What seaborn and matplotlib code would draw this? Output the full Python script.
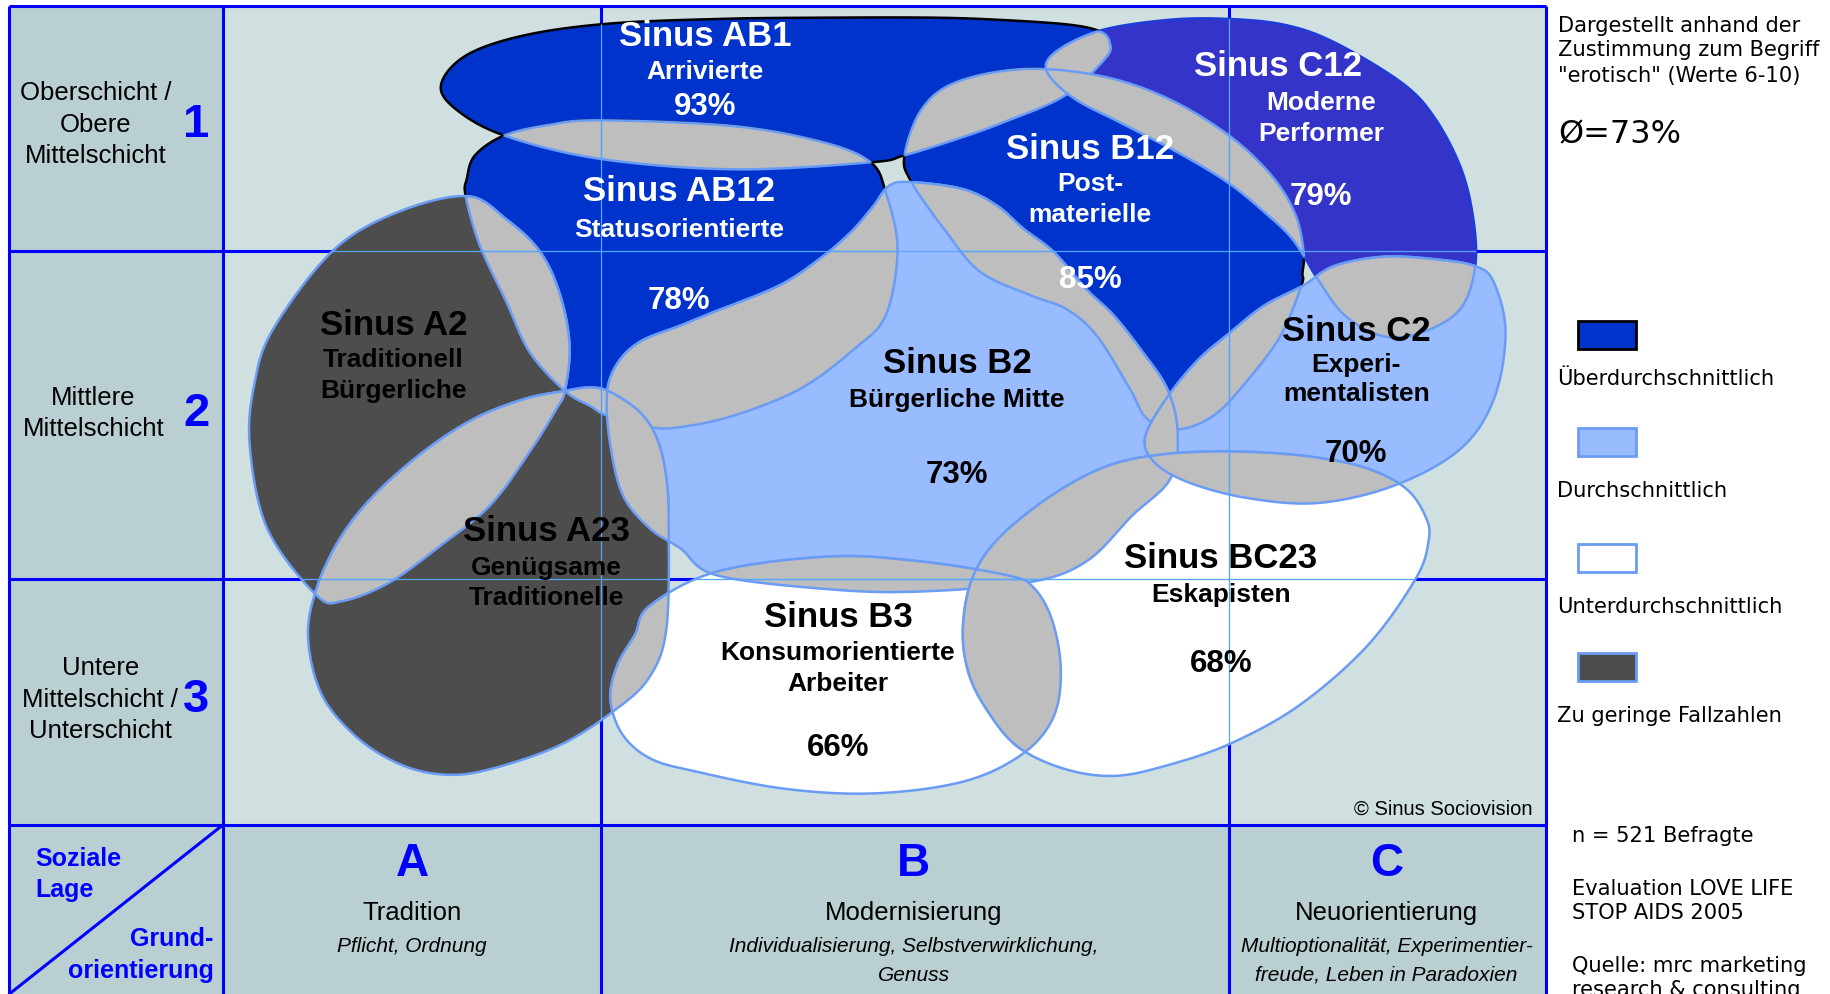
import numpy as np
import matplotlib
matplotlib.use("Agg")
import matplotlib.pyplot as plt
from matplotlib.patches import Polygon, Rectangle
import seaborn as sns

sns.set_theme(style="white")
plt.rcParams['font.family'] = ['Liberation Sans', 'DejaVu Sans']

# ---------------------------------------------------------------
# Data: Sinus-Milieus and agreement with the term "erotisch"
# ---------------------------------------------------------------

milieu_codes = ["AB1", "AB12", "B12", "C12", "A2", "B2", "C2", "A23", "B3", "BC23"]
milieu_names = ["Arrivierte", "Statusorientierte", "Post-\nmaterielle", "Moderne\nPerformer",
                "Traditionell\nBürgerliche", "Bürgerliche Mitte", "Experi-\nmentalisten",
                "Genügsame\nTraditionelle", "Konsumorientierte\nArbeiter", "Eskapisten"]
milieu_pct = [93, 78, 85, 79, None, 73, 70, None, 66, 68]
milieu_class = ["ueber", "ueber", "ueber", "ueber_c", "gering", "durch", "durch", "gering", "unter", "unter"]

average_pct = 73
n_respondents = 521

schicht_labels = ["Oberschicht /\nObere\nMittelschicht", "Mittlere\nMittelschicht",
                  "Untere\nMittelschicht /\nUnterschicht"]
schicht_numbers = ["1", "2", "3"]
orient_letters = ["A", "B", "C"]
orient_names = ["Tradition", "Modernisierung", "Neuorientierung"]
orient_values = ["Pflicht, Ordnung",
                 "Individualisierung, Selbstverwirklichung,\nGenuss",
                 "Multioptionalität, Experimentier-\nfreude, Leben in Paradoxien"]

legend_classes = ["ueber", "durch", "unter", "gering"]
legend_labels = ["Überdurchschnittlich", "Durchschnittlich", "Unterdurchschnittlich", "Zu geringe Fallzahlen"]

# ---------------------------------------------------------------
# Styles
# ---------------------------------------------------------------

class_fill = {"ueber": "#0033CC", "ueber_c": "#3434C8", "durch": "#99BBFF",
              "unter": "#FFFFFF", "gering": "#4D4D4D"}
class_edge = {"ueber": "black", "ueber_c": "#1E3CD8", "durch": "#6A9CF5",
              "unter": "#6A9CF5", "gering": "#6A9CF5"}
class_text = {"ueber": "white", "ueber_c": "white", "durch": "black",
              "unter": "black", "gering": "black"}

OVERLAP = "#BEBEBE"
LENS_EDGE = "#6A9CF5"
GRID = "#0000FF"
THIN_GRID = "#55A5FF"
PLOT_BG = "#D0E0E0"
HEAD_BG = "#B9CFD1"

# ---------------------------------------------------------------
# Layout (picture coordinates, 1568 x 853 frame)
# ---------------------------------------------------------------

outlines = {
    "AB1": [(378, 73), (400, 48), (450, 31), (523, 21), (620, 17), (706, 16), (800, 16), (859, 18),
            (916, 22), (943, 28), (951, 38), (947, 51), (912, 83), (859, 106), (820, 120), (775, 134),
            (746, 140), (629, 146), (514, 137), (432, 117), (390, 94)],
    "AB12": [(432, 117), (470, 108), (514, 104), (629, 109), (706, 123), (746, 140), (759, 166),
             (769, 214), (759, 271), (732, 300), (686, 334), (629, 357), (583, 367), (557, 367),
             (520, 357), (506, 349), (484, 336), (454, 303), (434, 260), (411, 211), (399, 169),
             (400, 154), (407, 134)],
    "B12": [(775, 134), (790, 94), (820, 71), (878, 60), (943, 66), (1000, 85), (1053, 117),
            (1090, 152), (1110, 185), (1117, 217), (1116, 235), (1115, 246), (1097, 289),
            (1068, 328), (1040, 357), (1009, 369), (983, 360), (968, 334), (940, 289), (914, 266),
            (883, 254), (840, 234), (811, 200), (781, 157)],
    "C12": [(897, 62), (905, 45), (943, 27), (1000, 18), (1050, 17), (1100, 22), (1143, 37),
            (1200, 71), (1228, 100), (1251, 143), (1262, 186), (1264, 229), (1251, 266),
            (1218, 286), (1185, 289), (1152, 271), (1129, 240), (1117, 220), (1105, 203),
            (1086, 185), (1053, 158), (1010, 132), (960, 106), (920, 85)],
    "A2": [(400, 169), (434, 189), (463, 217), (480, 254), (488, 297), (484, 336), (477, 351),
           (454, 388), (420, 434), (377, 469), (334, 500), (294, 516), (271, 511), (229, 454),
           (214, 383), (218, 330), (234, 283), (285, 216), (340, 183)],
    "B2": [(762, 160), (781, 157), (825, 163), (854, 177), (877, 197), (903, 217), (931, 249),
           (954, 271), (977, 300), (1000, 334), (1009, 371), (1003, 411), (970, 443), (931, 482),
           (882, 500), (787, 508), (710, 506), (614, 494), (583, 471), (557, 454), (534, 426),
           (523, 383), (520, 340), (528, 314), (548, 294), (583, 280), (610, 269), (667, 246),
           (702, 223), (729, 200), (748, 178)],
    "C2": [(981, 377), (997, 346), (1025, 311), (1054, 286), (1083, 263), (1116, 246), (1143, 229),
           (1185, 221), (1228, 223), (1264, 229), (1280, 243), (1290, 286), (1280, 343),
           (1251, 386), (1195, 417), (1130, 432), (1070, 428), (1020, 415), (990, 398)],
    "A23": [(484, 336), (506, 333), (523, 337), (548, 354), (563, 377), (571, 411), (573, 454),
            (571, 540), (556, 582), (525, 611), (479, 640), (421, 660), (383, 665), (345, 657),
            (307, 634), (276, 597), (264, 548), (271, 506), (291, 463), (320, 426), (363, 388),
            (406, 360), (449, 343)],
    "B3": [(557, 520), (614, 491), (710, 478), (787, 482), (863, 494), (886, 505), (902, 534),
           (909, 577), (902, 617), (875, 648), (825, 671), (749, 681), (672, 677), (595, 662),
           (557, 651), (533, 630), (523, 600), (529, 571), (544, 545)],
    "BC23": [(825, 540), (833, 497), (856, 462), (902, 425), (950, 400), (1000, 390), (1060, 388),
             (1120, 392), (1170, 402), (1205, 420), (1222, 445), (1224, 465), (1213, 497),
             (1172, 554), (1114, 605), (1055, 638), (1000, 657), (955, 666), (912, 660),
             (872, 641), (846, 610), (830, 578)],
}

# label anchor: (x name, y name, x sub, [y sub lines], y pct)
label_pos = {
    "AB1": (604, 31, 604, [62], 92),
    "AB12": (582, 164, 582, [197], 258),
    "B12": (934, 128, 934, [158, 184], 240),
    "C12": (1095, 57, 1132, [88, 115], 169),
    "A2": (337, 279, 337, [309, 335], None),
    "B2": (820, 312, 820, [343], 407),
    "C2": (1162, 284, 1162, [313, 338], 389),
    "A23": (468, 456, 468, [487, 513], None),
    "B3": (718, 529, 718, [560, 586], 641),
    "BC23": (1046, 479, 1046, [510], 569),
}

X0, XL, XA, XB, XR = 8, 191, 515, 1053, 1325
Y0, Y1, Y2, Y3, YB = 6, 216, 497, 708, 853


def smooth_closed(pts, n=20):
    P = np.asarray(pts, float)
    m = len(P)
    t = np.linspace(0, 1, n, endpoint=False)[:, None]
    segs = []
    for i in range(m):
        p0, p1, p2, p3 = P[i - 1], P[i], P[(i + 1) % m], P[(i + 2) % m]
        segs.append(0.5 * (2 * p1 + (-p0 + p2) * t + (2 * p0 - 5 * p1 + 4 * p2 - p3) * t ** 2
                           + (-p0 + 3 * p1 - 3 * p2 + p3) * t ** 3))
    return np.vstack(segs)


fig = plt.figure(figsize=(18.3, 9.95), dpi=100)
ax = fig.add_axes([0, 0, 1, 1])
ax.set_xlim(0, 1568)
ax.set_ylim(853, 0)
ax.axis("off")

# backgrounds
ax.add_patch(Rectangle((X0, Y0), XL - X0, YB - Y0 + 10, facecolor=HEAD_BG, edgecolor="none", zorder=0))
ax.add_patch(Rectangle((XL, Y3), XR - XL, YB - Y3 + 10, facecolor=HEAD_BG, edgecolor="none", zorder=0))
ax.add_patch(Rectangle((XL, Y0), XR - XL, Y3 - Y0, facecolor=PLOT_BG, edgecolor="none", zorder=0))

# thick grid
glw = 2.2
for x in [X0, XL, XA, XB, XR]:
    ax.plot([x, x], [Y0, YB + 10], color=GRID, lw=glw, zorder=1, solid_capstyle="butt")
for y in [Y0, Y1, Y2, Y3]:
    ax.plot([X0, XR], [y, y], color=GRID, lw=glw, zorder=1, solid_capstyle="butt")
ax.plot([XL, X0], [Y3, YB], color=GRID, lw=glw, zorder=1)

# milieu blobs
patches = {}
for code, cls in zip(milieu_codes, milieu_class):
    xy = smooth_closed(outlines[code])
    p = Polygon(xy, closed=True, facecolor=class_fill[cls], edgecolor=class_edge[cls],
                lw=1.8, zorder=2)
    ax.add_patch(p)
    patches[code] = (p, xy)

# overlaps in grey with light blue borders
for i, a in enumerate(milieu_codes):
    for b in milieu_codes[i + 1:]:
        pa, xya = patches[a]
        pb, xyb = patches[b]
        g = Polygon(xyb, closed=True, facecolor=OVERLAP, edgecolor=LENS_EDGE, lw=1.8, zorder=3)
        ax.add_patch(g)
        g.set_clip_path(pa)
        e = Polygon(xya, closed=True, fill=False, edgecolor=LENS_EDGE, lw=1.8, zorder=3)
        ax.add_patch(e)
        e.set_clip_path(pb)

# thin grid lines across the blobs
for code in milieu_codes:
    p, _ = patches[code]
    for x in [XA, XB]:
        ln, = ax.plot([x, x], [Y0, Y3], color=THIN_GRID, lw=0.9, zorder=4)
        ln.set_clip_path(p)
    for y in [Y1, Y2]:
        ln, = ax.plot([XL, XR], [y, y], color=THIN_GRID, lw=0.9, zorder=4)
        ln.set_clip_path(p)

# milieu labels
for code, name, pct, cls in zip(milieu_codes, milieu_names, milieu_pct, milieu_class):
    xn, yn, xs, ys, yp = label_pos[code]
    col = class_text[cls]
    ax.text(xn, yn, "Sinus " + code, ha="center", va="center", fontsize=25,
            fontweight="bold", color=col, zorder=6)
    for line, y in zip(name.split("\n"), ys):
        ax.text(xs, y, line, ha="center", va="center", fontsize=19,
                fontweight="bold", color=col, zorder=6)
    if pct is not None:
        ax.text(xs, yp, f"{pct}%", ha="center", va="center", fontsize=22.5,
                fontweight="bold", color=col, zorder=6)

# social class column
schicht_pos = [(82, [80, 107, 134], 107), (80, [341, 368], 355), (86, [573, 600, 627], 600)]
for lab, num, (x, ys, yn) in zip(schicht_labels, schicht_numbers, schicht_pos):
    for line, y in zip(lab.split("\n"), ys):
        ax.text(x, y, line, ha="center", va="center", fontsize=18.5, color="black", zorder=6)
    ax.text(168, yn, num, ha="center", va="center", fontsize=34, fontweight="bold",
            color=GRID, zorder=6)

# orientation header
orient_x = [353, 783, 1188]
for letter, nm, val, x in zip(orient_letters, orient_names, orient_values, orient_x):
    ax.text(x, 741, letter, ha="center", va="center", fontsize=33, fontweight="bold",
            color=GRID, zorder=6)
    ax.text(x, 783, nm, ha="center", va="center", fontsize=18.5, color="black", zorder=6)
    for line, y in zip(val.split("\n"), [811, 836]):
        ax.text(x, y, line, ha="center", va="center", fontsize=15, style="italic",
                color="black", zorder=6)

ax.text(30, 736, "Soziale", ha="left", va="center", fontsize=18, fontweight="bold", color=GRID)
ax.text(30, 763, "Lage", ha="left", va="center", fontsize=18, fontweight="bold", color=GRID)
ax.text(183, 805, "Grund-", ha="right", va="center", fontsize=18, fontweight="bold", color=GRID)
ax.text(183, 832, "orientierung", ha="right", va="center", fontsize=18, fontweight="bold", color=GRID)

ax.text(1313, 694, "© Sinus Sociovision", ha="right", va="center", fontsize=14.5, color="black", zorder=6)

# right panel
side = dict(ha="left", va="center", fontsize=15.1, color="black", family="DejaVu Sans")
for line, y in zip(["Dargestellt anhand der", "Zustimmung zum Begriff", "\"erotisch\" (Werte 6-10)"],
                   [22, 43, 65]):
    ax.text(1335, y, line, **side)
ax.text(1335, 116, f"Ø={average_pct}%", ha="left", va="center", fontsize=23,
        color="black", family="DejaVu Sans")

box_y = [276, 368, 467, 561]
lab_y = [325, 421, 520, 614]
for cls, lab, by, ly in zip(legend_classes, legend_labels, box_y, lab_y):
    ax.add_patch(Rectangle((1352, by), 50, 24, facecolor=class_fill[cls],
                           edgecolor=class_edge[cls], lw=2, zorder=6))
    ax.text(1334, ly, lab, **side)

for line, y in zip([f"n = {n_respondents} Befragte", "Evaluation LOVE LIFE", "STOP AIDS 2005",
                    "Quelle: mrc marketing", "research & consulting"],
                   [717, 762, 783, 828, 849]):
    ax.text(1347, y, line, **side)

fig.savefig("out.png", dpi=100)
